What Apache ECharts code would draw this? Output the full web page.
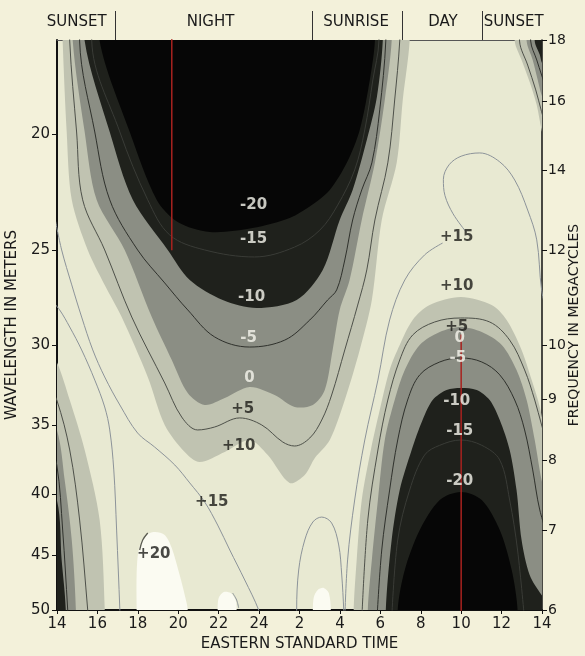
<!DOCTYPE html>
<html>
<head>
<meta charset="utf-8">
<script src="https://cdn.jsdelivr.net/npm/echarts@6/dist/echarts.min.js"></script>
<style>
html,body{margin:0;padding:0;background:#f3f1da;}
#chart{width:585px;height:656px;}
</style>
</head>
<body>
<div id="chart"></div>
<script>
// ---------- axis ticks / labels ----------
const timeTickLabels = ['14','16','18','20','22','24','2','4','6','8','10','12','14'];
const wavelengthTicks = [20, 25, 30, 35, 40, 45, 50];
const frequencyTicks = [6, 7, 8, 9, 10, 12, 14, 16, 18];
const periodNames = ['SUNSET', 'NIGHT', 'SUNRISE', 'DAY', 'SUNSET'];
const periodCenters = [14.97, 21.6, 28.8, 33.1, 36.6];
const periodBounds = [16.86, 26.65, 31.06, 35.02];

// ---------- contour regions: [hour (14..38), wavelength m] ----------
// night trough
const nightBelowPlus10 = [[14.15,14],[14.28,16.7],[14.48,19.9],[14.73,22.68],[15.52,24.98],[16.36,26.72],[17.2,28.43],[18.49,31.91],[19.33,35.0],[20.32,36.87],[21.06,37.59],[22.3,36.87],[23.53,36.03],[24.43,37.09],[25.51,39.14],[26.26,38.54],[26.76,37.3],[27.5,36.03],[28.24,33.36],[28.98,30.29],[29.58,27.51],[30.07,23.58],[30.81,21.12],[31.11,18.71],[31.45,16.7],[31.55,14]];
const nightBelowZero = [[14.7,14],[14.78,16.7],[15.37,19.9],[15.96,22.68],[17.35,24.98],[18.69,28.43],[19.68,30.88],[20.47,32.91],[21.31,33.68],[22.3,33.23],[23.53,32.53],[24.77,33.04],[25.76,33.81],[26.66,33.68],[27.25,32.72],[27.64,30.29],[27.99,28.04],[28.48,26.47],[29.08,23.58],[29.73,21.12],[30.22,18.71],[30.56,16.7],[30.65,14]];
const nightBelowMinus10 = [[15.3,14],[15.37,16.7],[16.61,19.9],[17.75,22.68],[19.48,24.98],[20.57,26.47],[22.2,27.51],[23.88,27.94],[25.86,27.51],[27.15,25.96],[27.99,23.58],[28.63,22.25],[29.33,20.21],[29.83,18.6],[30.12,16.7],[30.2,14]];
const nightBelowMinus20 = [[16.0,14],[16.11,16.7],[17.6,19.9],[18.93,22.68],[19.97,23.67],[21.56,24.13],[23.68,23.95],[25.51,23.49],[26.61,22.91],[27.5,22.25],[28.34,21.12],[28.98,19.82],[29.48,18.0],[29.73,16.7],[29.8,14]];
// day trough (and its wrap at the left edge)
const dayBelowPlus10 = [[28.65,58],[28.68,50],[28.83,45.4],[29.08,40.45],[29.53,36.73],[29.97,34.01],[30.46,31.48],[30.96,30.0],[31.6,28.59],[32.44,27.78],[33.98,27.35],[35.51,27.78],[36.25,28.59],[36.99,30.29],[37.49,32.1],[37.89,33.81],[38.4,37.5],[39,42],[39,58]];
const dayBelowPlus10Wrap = [[13,29],[13.99,31.0],[14.63,33.36],[15.37,36.73],[16.11,42.04],[16.36,49.81],[16.4,58],[13,58]];
const dayBelowZero = [[29.35,58],[29.38,50],[29.58,45.4],[29.88,40.45],[30.22,36.03],[30.71,33.36],[31.21,31.48],[31.95,30.0],[32.94,29.26],[33.98,28.98],[35.02,29.26],[36.01,30.0],[36.74,31.48],[37.24,33.36],[37.64,36.03],[37.98,38.92],[38.6,43],[39,58]];
const dayBelowZeroWrap = [[13,33],[13.99,35.34],[14.38,38.92],[14.73,43.69],[14.93,49.81],[14.95,58],[13,58]];
const dayBelowMinus10 = [[30.25,58],[30.27,50],[30.56,43.69],[30.96,39.68],[31.55,36.73],[32.09,34.67],[32.59,33.36],[33.28,32.72],[33.98,32.59],[34.77,32.72],[35.41,33.36],[35.91,34.67],[36.4,36.73],[36.74,39.68],[36.99,43.69],[37.39,46.74],[37.98,48.57],[38.6,50],[39,58]];
const dayBelowMinus10Wrap = [[13,38],[13.99,40.45],[14.23,45.4],[14.43,49.81],[14.45,58],[13,58]];
const dayBelowMinus20 = [[30.85,58],[30.86,50],[31.21,46.29],[31.95,42.86],[32.94,40.45],[33.98,39.83],[35.02,40.45],[35.91,42.86],[36.5,46.29],[36.79,50],[36.8,58]];
// evening trough starting at the top right
const eveningBelowPlus10 = [[36.55,14],[36.65,16.7],[36.99,17.32],[37.39,18.07],[37.74,18.89],[37.98,19.82],[38.5,21.5],[39,14]];
const eveningBelowZero = [[37.15,14],[37.24,16.7],[37.54,17.32],[37.79,18.0],[37.98,18.53],[38.5,19.5],[39,14]];
const eveningBelowMinus10 = [[37.55,14],[37.64,16.7],[37.89,17.15],[37.98,17.39],[38.5,18.2],[39,14]];
// regions above +20
const aboveTwentySunset = [[17.94,58],[17.94,50],[17.94,46.74],[18.04,44.54],[18.34,43.35],[18.83,43.02],[19.33,43.27],[19.68,44.37],[20.07,46.74],[20.32,48.57],[20.47,50],[20.5,58]];
const aboveTwentyMidnight = [[21.93,58],[21.95,50],[22.0,48.86],[22.25,48.29],[22.6,48.39],[22.84,49.05],[22.89,50],[22.9,58]];
const aboveTwentyPredawn = [[26.65,58],[26.66,50],[26.71,48.76],[26.9,48.11],[27.2,47.92],[27.45,48.39],[27.55,50],[27.56,58]];

// ---------- contour lines ----------
const nightPlus15 = [[13.9,23.5],[14.23,24.98],[14.73,26.72],[15.22,28.43],[15.77,30.29],[16.36,31.91],[17.11,33.68],[17.99,35.55],[18.83,36.52],[19.83,37.81],[20.57,39.14],[21.31,40.61],[21.95,42.45],[22.55,44.54],[23.29,47.19],[23.98,50],[24.05,51]];
const nightPlus5 = [[14.6,15.5],[14.63,16.7],[14.97,19.9],[15.27,22.68],[16.36,24.98],[17.7,28.43],[19.33,32.28],[20.17,34.47],[20.96,35.34],[21.8,35.14],[23.04,34.53],[24.13,35.0],[25.17,36.17],[25.76,36.45],[26.51,35.89],[27.1,34.67],[27.59,33.04],[28.24,30.29],[28.88,27.78],[29.33,25.96],[29.73,23.58],[30.37,21.12],[30.71,18.71],[30.96,16.7],[31.0,15.5]];
const nightMinus5 = [[15.1,15.5],[15.12,16.7],[15.87,19.9],[16.61,22.68],[17.99,24.98],[19.33,26.62],[20.47,28.04],[21.8,29.54],[23.53,30.12],[25.27,29.72],[26.51,28.59],[27.39,27.51],[27.84,26.98],[28.24,25.47],[28.63,23.58],[29.08,22.25],[29.58,21.12],[29.97,19.07],[30.27,16.7],[30.3,15.5]];
const nightMinus15 = [[15.7,15.5],[15.72,16.7],[17.11,19.9],[18.49,22.68],[19.58,24.27],[21.31,24.98],[23.78,25.32],[25.76,24.84],[27.01,24.04],[27.89,22.91],[28.73,21.41],[29.23,19.82],[29.63,18.0],[29.93,16.7],[29.95,15.5]];
const dayPlus5 = [[29.08,51],[29.38,42.04],[29.88,36.73],[30.37,33.36],[30.96,30.88],[31.6,29.43],[32.69,28.7],[33.98,28.48],[35.41,28.7],[36.4,29.72],[37.14,31.48],[37.64,33.36],[37.98,35.0],[38.4,37]];
const dayPlus5Wrap = [[13.6,32.5],[13.99,33.36],[14.63,36.73],[15.12,42.04],[15.52,50],[15.55,51]];
const dayMinus5 = [[29.83,51],[30.07,44.54],[30.46,39.68],[30.86,36.03],[31.35,33.36],[31.95,31.78],[32.94,31.0],[33.98,30.76],[35.02,31.0],[35.91,31.78],[36.65,33.36],[37.14,35.34],[37.54,38.17],[37.89,41.23],[38.4,44]];
const dayMinus5Wrap = [[13.6,36.5],[13.99,37.81],[14.28,42.86],[14.53,50],[14.55,51]];
const dayMinus15 = [[30.56,51],[30.86,43.69],[31.45,39.68],[32.19,37.09],[32.94,36.4],[33.98,36.03],[35.02,36.4],[35.91,37.45],[36.4,40.45],[36.79,44.54],[37.14,51]];
const dayPlus15 = [[33.08,24.65],[32.19,25.22],[31.21,26.47],[30.46,28.59],[29.88,32.1],[29.23,36.03],[28.73,40.45],[28.38,45.4],[28.24,51]];
const dayPlus15Loop = [[34.22,24.1],[33.6,23.3],[33.2,22.5],[33.12,21.8],[33.4,21.2],[34.0,20.85],[34.92,20.72],[35.91,21.08],[36.65,21.83],[37.29,23.13],[37.74,24.5],[37.98,26.98],[38.3,28.5]];
const dayPlus15Wrap = [[13.7,27.5],[14.13,28.04],[14.63,28.98],[15.22,30.29],[15.87,32.1],[16.36,33.81],[16.61,35.34],[16.81,38.17],[16.95,42.86],[17.11,50],[17.12,51]];
const predawnPlus15Loop = [[25.86,51],[25.86,50],[25.96,46.29],[26.26,43.69],[26.66,42.2],[27.1,41.8],[27.59,42.28],[27.94,44.11],[28.09,46.74],[28.19,50],[28.2,51]];
const eveningPlus5 = [[36.85,15.5],[36.89,16.7],[37.29,17.49],[37.69,18.35],[37.98,19.14],[38.3,20]];
const eveningMinus5 = [[37.4,15.5],[37.44,16.7],[37.74,17.32],[37.98,17.83],[38.3,18.5]];
const plus20MarkSunset = [[18.09,44.54],[18.24,43.69],[18.49,43.1]];
const plus20MarkMidnight = [[22.69,48.39],[22.89,49.05],[22.99,49.81]];

// red reference verticals
const redDusk = [[19.68,16.0],[19.68,25.0]];
const redMorning = [[34.0,29.4],[34.0,51]];

// contour value labels
const lightLabels = [[23.73,22.91,'-20'],[23.73,24.46,'-15'],[23.63,27.35,'-10'],[23.48,29.6,'-5'],[23.53,31.97,'0'],
  [33.93,29.6,'0'],[33.83,30.76,'-5'],[33.78,33.42,'-10'],[33.93,35.41,'-15'],[33.93,38.99,'-20']];
const darkLabels = [[23.19,33.94,'+5'],[22.99,36.45,'+10'],[21.66,40.61,'+15'],[18.79,44.89,'+20'],
  [33.78,24.37,'+15'],[33.78,26.77,'+10'],[33.78,28.98,'+5']];

// ---------- colours ----------
const C_WHITE = '#fbfbf2', C_CREAM = '#e8e9d2', C_LIGHT = '#c0c3b1', C_MID = '#8b8e84', C_DARK = '#1f211c', C_BLACK = '#060606';
const FONT = 'DejaVu Sans';

function fillSeries(poly, color) {
  return {
    type: 'custom', coordinateSystem: 'cartesian2d', xAxisIndex: 0, yAxisIndex: 0,
    clip: true, silent: true, data: poly, encode: { x: 0, y: 1 },
    renderItem: function (params, api) {
      if (params.dataIndex !== 0) return null;
      const pts = poly.map(function (p) { return api.coord(p); });
      return { type: 'polygon', shape: { points: pts, smooth: 0.3 }, style: { fill: color } };
    }
  };
}
function lineSeries(data, color, width) {
  return {
    type: 'line', data: data, xAxisIndex: 0, yAxisIndex: 0, symbol: 'none', showSymbol: false,
    smooth: 0.35, clip: true, silent: true, lineStyle: { color: color, width: width }
  };
}
function labelSeries(arr, color) {
  return {
    type: 'scatter', xAxisIndex: 0, yAxisIndex: 0, silent: true, symbolSize: 2, z: 10,
    itemStyle: { color: 'rgba(0,0,0,0)' },
    data: arr.map(function (d) { return [d[0], d[1]]; }),
    label: { show: true, position: 'inside', color: color, fontFamily: FONT, fontSize: 15, fontWeight: 'bold',
      formatter: function (p) { return arr[p.dataIndex][2]; } }
  };
}
function nearestIndex(list, v) {
  let bi = 0, bd = Infinity;
  list.forEach(function (c, i) { const d = Math.abs(c - v); if (d < bd) { bd = d; bi = i; } });
  return bi;
}

const chart = echarts.init(document.getElementById('chart'));
const series = [
  fillSeries(aboveTwentySunset, C_WHITE),
  fillSeries(aboveTwentyMidnight, C_WHITE),
  fillSeries(aboveTwentyPredawn, C_WHITE),
  fillSeries(nightBelowPlus10, C_LIGHT),
  fillSeries(dayBelowPlus10, C_LIGHT),
  fillSeries(dayBelowPlus10Wrap, C_LIGHT),
  fillSeries(eveningBelowPlus10, C_LIGHT),
  fillSeries(nightBelowZero, C_MID),
  fillSeries(dayBelowZero, C_MID),
  fillSeries(dayBelowZeroWrap, C_MID),
  fillSeries(eveningBelowZero, C_MID),
  fillSeries(nightBelowMinus10, C_DARK),
  fillSeries(dayBelowMinus10, C_DARK),
  fillSeries(dayBelowMinus10Wrap, C_DARK),
  fillSeries(eveningBelowMinus10, C_DARK),
  fillSeries(nightBelowMinus20, C_BLACK),
  fillSeries(dayBelowMinus20, C_BLACK),
  lineSeries(nightPlus15, '#8c9399', 1),
  lineSeries(dayPlus15, '#8c9399', 1),
  lineSeries(dayPlus15Loop, '#8c9399', 1),
  lineSeries(dayPlus15Wrap, '#8c9399', 1),
  lineSeries(predawnPlus15Loop, '#8c9399', 1),
  lineSeries(nightPlus5, '#4d5049', 1),
  lineSeries(nightMinus5, '#2f312c', 1),
  lineSeries(nightMinus15, '#3a3c37', 1),
  lineSeries(dayPlus5, '#4d5049', 1),
  lineSeries(dayPlus5Wrap, '#4d5049', 1),
  lineSeries(dayMinus5, '#2f312c', 1),
  lineSeries(dayMinus5Wrap, '#2f312c', 1),
  lineSeries(dayMinus15, '#3a3c37', 1),
  lineSeries(eveningPlus5, '#4d5049', 1),
  lineSeries(eveningMinus5, '#2f312c', 1),
  lineSeries(plus20MarkSunset, '#5a5b50', 1.3),
  lineSeries(plus20MarkMidnight, '#8c9399', 1),
  lineSeries(redDusk, '#a8231f', 1.5),
  lineSeries(redMorning, '#a8231f', 1.5),
  labelSeries(lightLabels, '#f6f6ee'),
  labelSeries(darkLabels, '#1c1c18')
];

chart.setOption({
  animation: false,
  backgroundColor: '#f3f1da',
  textStyle: { fontFamily: FONT },
  grid: { left: 57, right: 43, top: 40, bottom: 46, show: true, backgroundColor: C_CREAM, borderWidth: 0, outerBoundsMode: 'none' },
  xAxis: [
    { type: 'value', position: 'bottom', min: 14, max: 38, interval: 2,
      axisLine: { show: true, onZero: false, lineStyle: { color: '#111', width: 2 } },
      axisTick: { show: true, length: 4, lineStyle: { color: '#111' } },
      splitLine: { show: false },
      axisLabel: { color: '#1a1a1a', fontSize: 15, fontFamily: FONT, margin: 7,
        formatter: function (v) { return timeTickLabels[Math.round((v - 14) / 2)]; } },
      name: 'EASTERN STANDARD TIME', nameLocation: 'middle', nameGap: 27,
      nameTextStyle: { color: '#1a1a1a', fontSize: 15, fontFamily: FONT } },
    { type: 'value', position: 'top', min: 14, max: 38,
      axisLine: { show: true, onZero: false, lineStyle: { color: '#555', width: 1 } },
      axisTick: { show: true, length: 29, customValues: periodBounds, lineStyle: { color: '#333', width: 1 } },
      splitLine: { show: false },
      axisLabel: { show: true, customValues: periodCenters, color: '#1a1a1a', fontSize: 15, fontFamily: FONT, margin: 10,
        formatter: function (v) { return periodNames[nearestIndex(periodCenters, v)]; } } }
  ],
  yAxis: [
    { type: 'log', logBase: 10, min: 300 / 18, max: 50, inverse: true, position: 'left',
      axisLine: { show: true, onZero: false, lineStyle: { color: '#111', width: 2 } },
      axisTick: { show: true, length: 5, customValues: wavelengthTicks, lineStyle: { color: '#111' } },
      splitLine: { show: false }, minorTick: { show: false },
      axisLabel: { show: true, customValues: wavelengthTicks, color: '#1a1a1a', fontSize: 15, fontFamily: FONT, margin: 7,
        formatter: function (v) { return String(Math.round(v)); } },
      name: 'WAVELENGTH IN METERS', nameLocation: 'middle', nameRotate: 90, nameGap: 37,
      nameTextStyle: { color: '#1a1a1a', fontSize: 15, fontFamily: FONT } },
    { type: 'log', logBase: 10, min: 6, max: 18, position: 'right',
      axisLine: { show: true, onZero: false, lineStyle: { color: '#111', width: 1.5 } },
      axisTick: { show: true, length: 5, customValues: frequencyTicks, lineStyle: { color: '#111' } },
      splitLine: { show: false }, minorTick: { show: false },
      axisLabel: { show: true, customValues: frequencyTicks, color: '#1a1a1a', fontSize: 14, fontFamily: FONT, margin: 6,
        formatter: function (v) { return String(Math.round(v)); } },
      name: 'FREQUENCY IN MEGACYCLES', nameLocation: 'middle', nameRotate: 90, nameGap: 25, nameMoveOverlap: false,
      nameTextStyle: { color: '#1a1a1a', fontSize: 14, fontFamily: FONT } }
  ],
  series: series
});
</script>
</body>
</html>
